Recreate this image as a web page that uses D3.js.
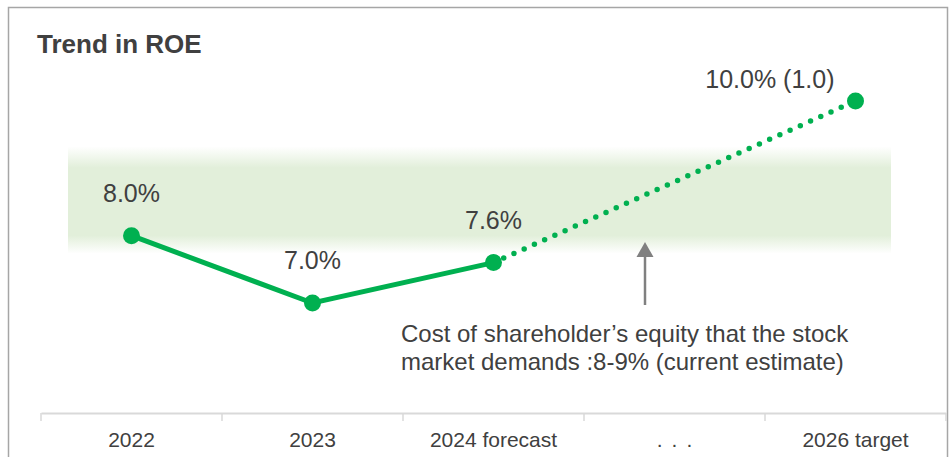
<!DOCTYPE html>
<html>
<head>
<meta charset="utf-8">
<script src="https://cdn.jsdelivr.net/npm/d3@7"></script>
<style>
  body { margin: 0; background: #fff; }
  text { font-family: "Liberation Sans", Arial, sans-serif; fill: #404040; }
</style>
</head>
<body>
<div id="chart"></div>
<script>
// Data
const categories = ["2022", "2023", "2024 forecast", "...", "2026 target"];
const roeValues = [8.0, 7.0, 7.6, null, 10.0];
const roeLabels = ["8.0%", "7.0%", "7.6%", "", "10.0% (1.0)"];
const costOfEquity = [8, 9];
const noteLines = ["Cost of shareholder\u2019s equity that the stock", "market demands :8-9% (current estimate)"];

const width = 952, height = 457;
const green = "#00b050";

const svg = d3.select("#chart").append("svg")
       .attr("width", width)
       .attr("height", height);

// frame
svg.append("rect")
       .attr("x", 8.5).attr("y", 7.5)
       .attr("width", 939).attr("height", 470)
       .attr("fill", "none")
       .attr("stroke", "#a6a6a6")
       .attr("stroke-width", 1.5);

svg.append("text")
       .attr("x", 37).attr("y", 53)
       .style("font-size", "26px")
       .style("font-weight", "bold")
       .text("Trend in ROE");

const x = d3.scaleBand().domain(categories).range([41, 946]);
const y = d3.scaleLinear().domain([7, 10]).range([303, 101]);

// band of the cost of equity, with soft edges
const grad = svg.append("defs").append("linearGradient")
       .attr("id", "band").attr("x1", 0).attr("x2", 0).attr("y1", 0).attr("y2", 1);
[[0, 0], [0.2, 1], [0.83, 1], [1, 0]].forEach(s => {
       grad.append("stop").attr("offset", s[0]).attr("stop-color", "#e2efda").attr("stop-opacity", s[1]);
});
svg.append("rect")
       .attr("x", 68)
       .attr("width", 823)
       .attr("y", y(costOfEquity[1]) - 22)
       .attr("height", y(costOfEquity[0]) - y(costOfEquity[1]) + 40)
       .attr("fill", "url(#band)");

// x axis
const axis = svg.append("g")
       .attr("transform", "translate(0,413)")
       .call(d3.axisBottom(x).tickSize(0).tickPadding(19));
axis.select(".domain").attr("stroke", "#d9d9d9").attr("stroke-width", 2);
axis.selectAll("text")
       .style("font-size", "21px")
       .style("font-family", "'Liberation Sans', Arial, sans-serif")
       .attr("fill", "#404040");
// spaced-out dots for the gap category
axis.selectAll("text")
       .filter(d => d === "...")
       .style("letter-spacing", "9px")
       .attr("dx", "4.5px");
const edges = categories.map(c => x(c)).concat([x.range()[1]]);
axis.selectAll(".edge")
       .data(edges)
       .enter()
       .append("line")
       .attr("x1", d => d).attr("x2", d => d)
       .attr("y1", 0).attr("y2", 8)
       .attr("stroke", "#d9d9d9")
       .attr("stroke-width", 1.5);

const pts = categories.map((c, i) => ({ c, v: roeValues[i], label: roeLabels[i] }))
       .filter(d => d.v !== null);
const cx = d => x(d.c) + x.bandwidth() / 2;

const line = d3.line().x(cx).y(d => y(d.v));

// actual + forecast: solid
svg.append("path")
       .datum(pts.slice(0, 3))
       .attr("d", line)
       .attr("fill", "none")
       .attr("stroke", green)
       .attr("stroke-width", 5);

// target: dotted
svg.append("path")
       .datum(pts.slice(2))
       .attr("d", line)
       .attr("fill", "none")
       .attr("stroke", green)
       .attr("stroke-width", 5.5)
       .attr("stroke-linecap", "round")
       .attr("stroke-dasharray", "0 11.2");

svg.selectAll(".pt")
       .data(pts)
       .enter()
       .append("circle")
       .attr("cx", cx)
       .attr("cy", d => y(d.v))
       .attr("r", 8.5)
       .attr("fill", green);

svg.selectAll(".lbl")
       .data(pts)
       .enter()
       .append("text")
       .attr("x", (d, i) => i === 3 ? cx(d) - 21 : cx(d))
       .attr("y", (d, i) => i === 3 ? y(d.v) - 13 : y(d.v) - 34)
       .attr("text-anchor", (d, i) => i === 3 ? "end" : "middle")
       .style("font-size", "25px")
       .text(d => d.label);

// arrow pointing at the band
const ax = 645;
svg.append("line")
       .attr("x1", ax).attr("x2", ax)
       .attr("y1", 305).attr("y2", 255)
       .attr("stroke", "#808080")
       .attr("stroke-width", 2.5);
svg.append("path")
       .attr("d", `M${ax - 8.5},257 L${ax},242 L${ax + 8.5},257 Z`)
       .attr("fill", "#808080");

svg.selectAll(".note")
       .data(noteLines)
       .enter()
       .append("text")
       .attr("x", 401)
       .attr("y", (d, i) => 342 + i * 28)
       .style("font-size", "24px")
       .text(d => d);
</script>
</body>
</html>
